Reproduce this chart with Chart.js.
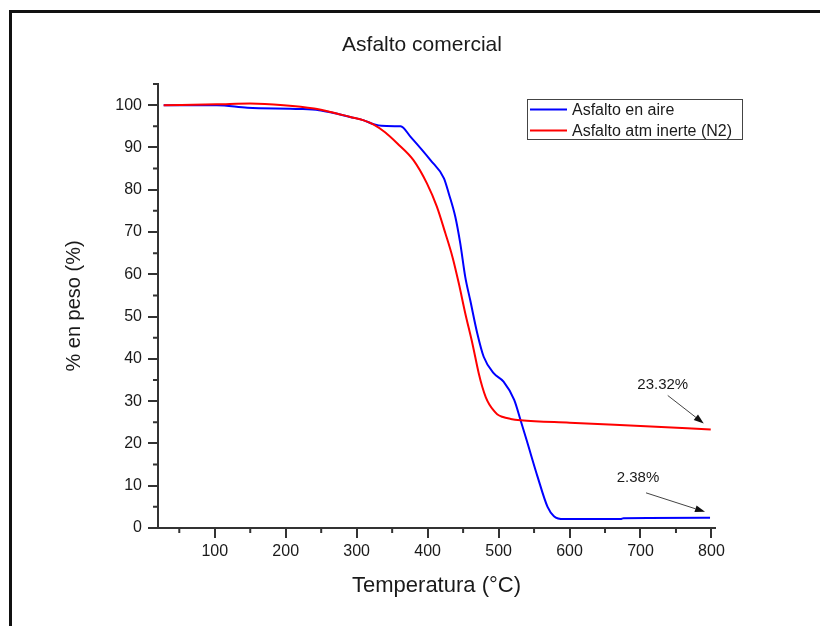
<!DOCTYPE html>
<html>
<head>
<meta charset="utf-8">
<title>Asfalto comercial</title>
<script src="https://cdn.jsdelivr.net/npm/chart.js@4.4.1/dist/chart.umd.min.js"></script>
<style>
    html, body { margin: 0; padding: 0; background: #fff; }
    #wrap { width: 820px; height: 626px; }
</style>
</head>
<body>
<div id="wrap"><canvas id="tga-chart" width="820" height="626"></canvas></div>
<script>
// TGA curves
const chartTitle = 'Asfalto comercial';
const seriesLabels = ['Asfalto en aire', 'Asfalto atm inerte (N2)'];

const airTemp   = [28, 103, 146, 221, 247, 263, 291, 310, 324, 335, 362, 376, 404, 423, 430, 439, 446, 453, 460, 470, 479, 493, 507, 522, 531, 540, 555, 569, 578, 592, 672, 676, 798];
const airWeight = [100, 100, 99.4, 99.1, 98.8, 98.3, 97.2, 96.4, 95.5, 95.1, 95.0, 92.5, 87, 82.7, 79, 73.6, 67.3, 59.4, 53.9, 46, 40.5, 36.6, 34.6, 30.3, 25.5, 20.5, 12.1, 5, 2.8, 2.1, 2.1, 2.3, 2.4];

const n2Temp   = [28, 103, 150, 197, 240, 263, 291, 310, 324, 340, 357, 380, 399, 413, 425, 435, 444, 453, 463, 472, 477, 482, 487, 493, 498, 505, 517, 531, 600, 700, 799];
const n2Weight = [100, 100.2, 100.4, 100, 99.2, 98.4, 97.2, 96.4, 95.4, 93.6, 91, 87, 81.5, 76, 69.7, 64.1, 57.8, 50.8, 43.7, 36.6, 33.4, 30.9, 29.2, 27.8, 26.9, 26.3, 25.8, 25.5, 24.9, 24.1, 23.3];

const endLabels = ['2.38%', '23.32%'];

const FONT = "'Liberation Sans', Arial, sans-serif";
const axisColor = '#333333';
const textColor = '#1a1a1a';

const frame = {
    id: 'frame',
    beforeDraw(chart) {
        const c = chart.ctx;
        c.save();
        c.fillStyle = '#ffffff';
        c.fillRect(0, 0, chart.width, chart.height);
        c.fillStyle = '#111111';
        c.fillRect(9, 10, chart.width - 9, 3);
        c.fillRect(9, 10, 3, chart.height - 10);
        c.restore();
    }
};

const minorTicks = {
    id: 'minorTicks',
    afterDraw(chart) {
        const x = chart.scales.x;
        const y = chart.scales.y;
        const c = chart.ctx;
        c.save();
        c.strokeStyle = axisColor;
        c.lineWidth = 2;
        c.beginPath();
        for (let v = 50; v < x.max; v += 100) {
            const px = x.getPixelForValue(v);
            c.moveTo(px, x.top);
            c.lineTo(px, x.top + 5);
        }
        for (let v = 5; v <= y.max; v += 10) {
            const py = y.getPixelForValue(v);
            c.moveTo(y.right, py);
            c.lineTo(y.right - 5, py);
        }
        c.stroke();
        c.restore();
    }
};

const plotTitle = {
    id: 'plotTitle',
    afterDraw(chart) {
        const c = chart.ctx;
        c.save();
        c.font = '21px ' + FONT;
        c.fillStyle = textColor;
        c.textAlign = 'center';
        c.textBaseline = 'middle';
        c.fillText(chartTitle, 422, 45);
        c.restore();
    }
};

const boxLegend = {
    id: 'boxLegend',
    afterDraw(chart) {
        const c = chart.ctx;
        const x0 = 527, y0 = 99, w = 215, h = 40;
        c.save();
        c.fillStyle = '#ffffff';
        c.fillRect(x0, y0, w, h);
        c.strokeStyle = '#444444';
        c.lineWidth = 1;
        c.strokeRect(x0 + 0.5, y0 + 0.5, w, h);
        c.font = '16px ' + FONT;
        c.textBaseline = 'middle';
        chart.data.datasets.forEach((ds, i) => {
            const yy = y0 + 10.5 + i * 21;
            c.strokeStyle = ds.borderColor;
            c.lineWidth = 2;
            c.beginPath();
            c.moveTo(x0 + 3, yy);
            c.lineTo(x0 + 40, yy);
            c.stroke();
            c.fillStyle = textColor;
            c.fillText(ds.label, x0 + 45, yy + 1);
        });
        c.restore();
    }
};

// arrows pointing at the last point of each curve
const noteOffsets = [
    { text: [-72, -40], tail: [-64, -25], tip: [-5, -6] },
    { text: [-48, -45], tail: [-43, -34], tip: [-7, -6] }
];

const endNotes = {
    id: 'endNotes',
    afterDatasetsDraw(chart) {
        const c = chart.ctx;
        c.save();
        chart.data.datasets.forEach((ds, i) => {
            const pts = chart.getDatasetMeta(i).data;
            const last = pts[pts.length - 1];
            const o = noteOffsets[i];
            const tx = last.x + o.text[0], ty = last.y + o.text[1];
            const ax = last.x + o.tail[0], ay = last.y + o.tail[1];
            const bx = last.x + o.tip[0], by = last.y + o.tip[1];

            c.font = '15px ' + FONT;
            c.fillStyle = textColor;
            c.textAlign = 'center';
            c.textBaseline = 'middle';
            c.fillText(endLabels[i], tx, ty);

            const ang = Math.atan2(by - ay, bx - ax);
            const len = 10, half = 3.5;
            const bxBase = bx - len * Math.cos(ang), byBase = by - len * Math.sin(ang);
            c.strokeStyle = '#444444';
            c.lineWidth = 1;
            c.beginPath();
            c.moveTo(ax, ay);
            c.lineTo(bxBase, byBase);
            c.stroke();
            c.fillStyle = '#111111';
            c.beginPath();
            c.moveTo(bx, by);
            c.lineTo(bxBase + half * Math.sin(ang), byBase - half * Math.cos(ang));
            c.lineTo(bxBase - half * Math.sin(ang), byBase + half * Math.cos(ang));
            c.closePath();
            c.fill();
        });
        c.restore();
    }
};

const ctx = document.getElementById('tga-chart');

new Chart(ctx, {
    type: 'line',
    data: {
        datasets: [{
            label: seriesLabels[0],
            data: airTemp.map((t, i) => ({ x: t, y: airWeight[i] })),
            borderColor: '#0000ff',
            borderWidth: 2,
            pointRadius: 0,
            fill: false,
            cubicInterpolationMode: 'monotone',
            order: 1
        }, {
            label: seriesLabels[1],
            data: n2Temp.map((t, i) => ({ x: t, y: n2Weight[i] })),
            borderColor: '#ff0000',
            borderWidth: 2,
            pointRadius: 0,
            fill: false,
            cubicInterpolationMode: 'monotone',
            order: 0
        }]
    },
    options: {
        responsive: false,
        animation: false,
        layout: {
            padding: { top: 84, right: 105, bottom: 0, left: 0 }
        },
        plugins: {
            legend: { display: false },
            title: { display: false },
            tooltip: { enabled: false }
        },
        scales: {
            x: {
                type: 'linear',
                min: 20,
                max: 805,
                ticks: {
                    stepSize: 100,
                    includeBounds: false,
                    padding: 4,
                    color: textColor,
                    font: { family: FONT, size: 16 }
                },
                grid: {
                    drawOnChartArea: false,
                    tickLength: 10,
                    color: axisColor,
                    lineWidth: 2
                },
                border: { color: axisColor, width: 2 },
                title: {
                    display: true,
                    text: 'Temperatura (°C)',
                    color: textColor,
                    font: { family: FONT, size: 22 },
                    padding: { top: 27, bottom: 27 }
                },
                afterFit(scale) { scale.height = 98; }
            },
            y: {
                type: 'linear',
                min: 0,
                max: 105,
                ticks: {
                    stepSize: 10,
                    includeBounds: false,
                    padding: 6,
                    color: textColor,
                    font: { family: FONT, size: 16 }
                },
                grid: {
                    drawOnChartArea: false,
                    tickLength: 10,
                    color: axisColor,
                    lineWidth: 2
                },
                border: { color: axisColor, width: 2 },
                title: {
                    display: true,
                    text: '% en peso (%)',
                    color: textColor,
                    font: { family: FONT, size: 20 },
                    padding: { top: 62, bottom: 62 }
                },
                afterFit(scale) { scale.width = 158; }
            }
        }
    },
    plugins: [frame, minorTicks, plotTitle, boxLegend, endNotes]
});
</script>
</body>
</html>
